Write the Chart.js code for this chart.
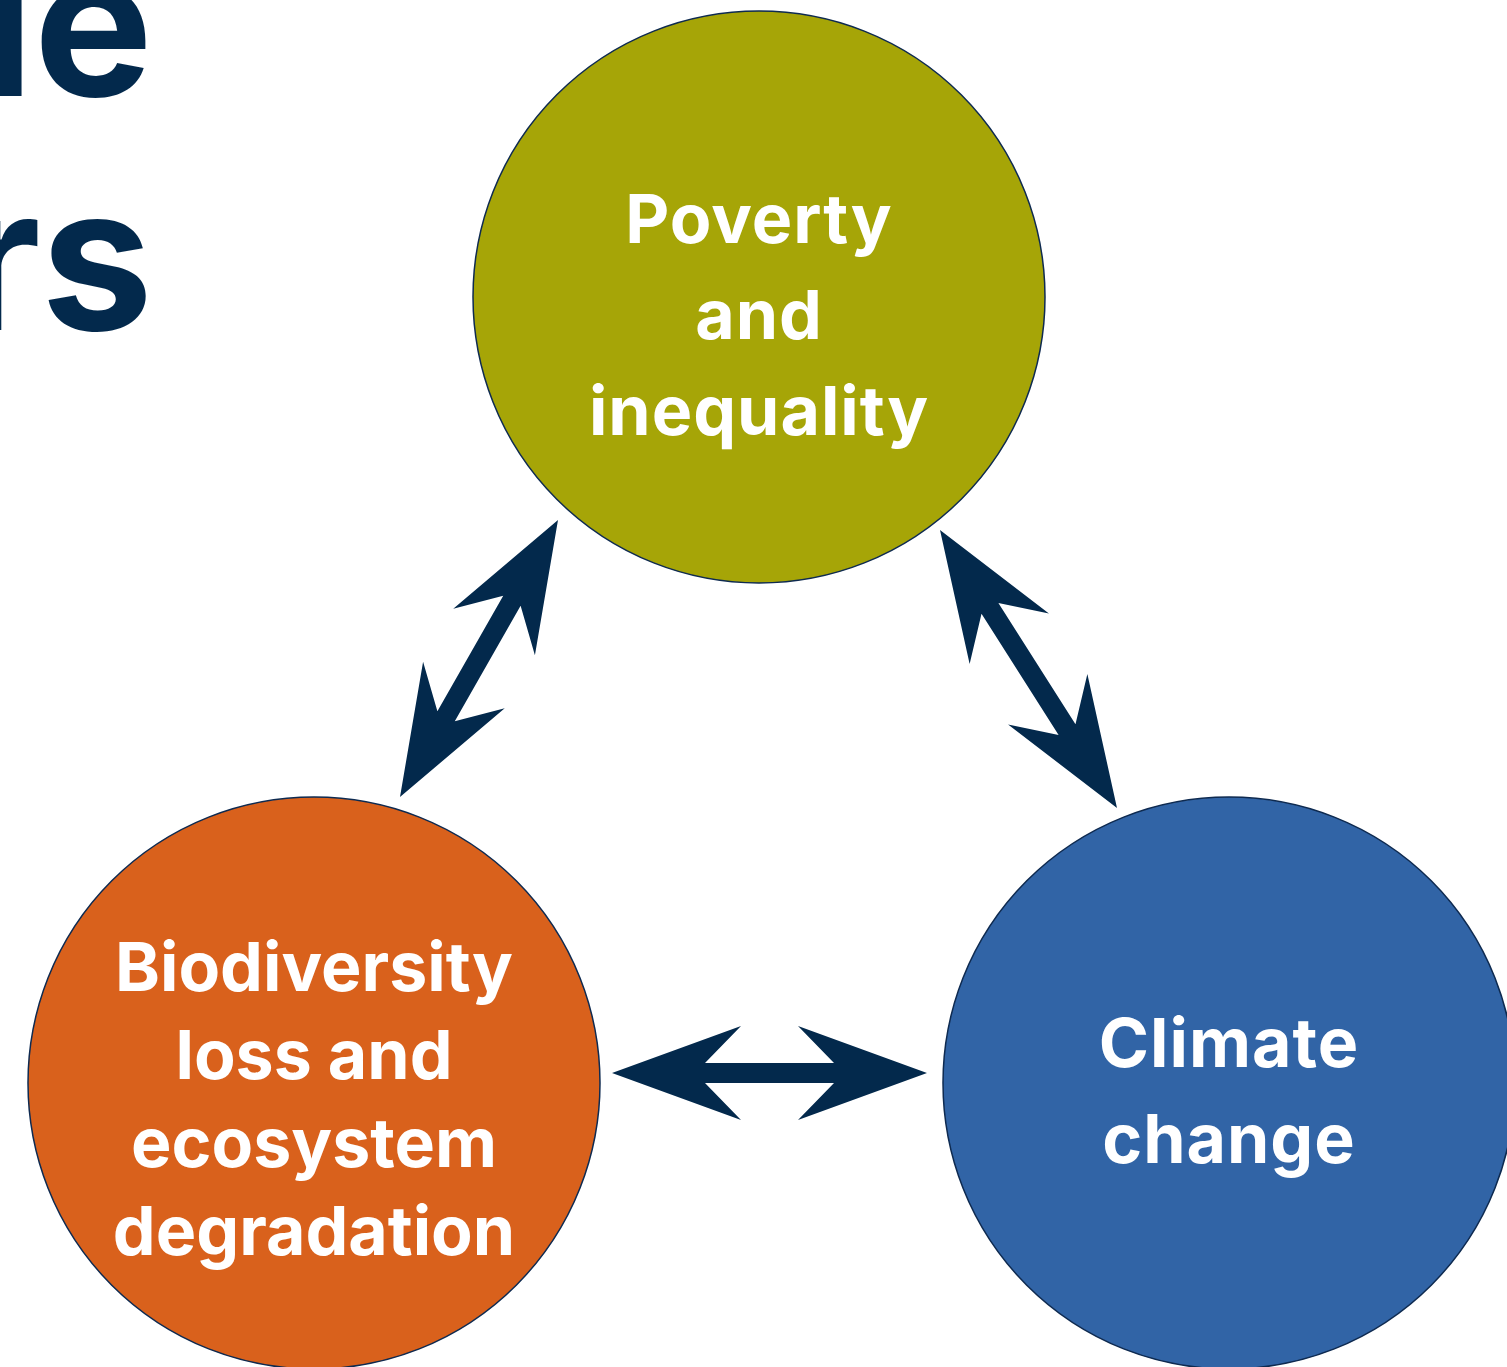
<!DOCTYPE html>
<html>
<head>
<meta charset="utf-8">
<script src="https://cdn.jsdelivr.net/npm/chart.js@4/dist/chart.umd.min.js"></script>
<style>
    html, body { margin: 0; padding: 0; background: #ffffff; overflow: hidden; }
    #wrap { position: relative; width: 1507px; height: 1367px; }
</style>
</head>
<body>
<div id="wrap"><canvas id="chart"></canvas></div>
<script>
// --- data ---------------------------------------------------------------
const nodeNames = ['Poverty and inequality', 'Biodiversity loss and ecosystem degradation', 'Climate change'];
const nodeLines = [
    ['Poverty', 'and', 'inequality'],
    ['Biodiversity', 'loss and', 'ecosystem', 'degradation'],
    ['Climate', 'change']
];
const nodeX = [759, 314, 1229];
const nodeY = [297, 1083, 1083];

// double-headed links between the circles (start / end in the same units)
const arrowStartX = [400, 940, 612];
const arrowStartY = [797, 530, 1073];
const arrowEndX = [558, 1117, 927];
const arrowEndY = [520, 808, 1073];

// cropped heading words at the left edge
const headingWords = ['le', 'rs'];

// --- styles -------------------------------------------------------------
const NAVY = '#03294c';
const nodeColors = ['#a6a507', '#d9611c', '#3164a6'];
const FONT = 'Inter, "Open Sans", sans-serif';

const arrowDatasets = arrowStartX.map((x, i) => ({
    type: 'line',
    label: 'link ' + (i + 1),
    data: [{ x: x, y: arrowStartY[i] }, { x: arrowEndX[i], y: arrowEndY[i] }],
    showLine: false,
    pointRadius: 0,
    isArrow: true
}));

/**
 * Draws one double-headed arrow between two pixel points.
 */
function drawArrow(ctx, p1, p2) {
    const dx = p2.x - p1.x, dy = p2.y - p1.y;
    const len = Math.hypot(dx, dy);
    const ux = dx / len, uy = dy / len;
    const nx = -uy, ny = ux;
    const headLen = 129, headHalf = 47, notch = 93, shaftHalf = 10;
    const pt = (base, along, across) => [base.x + ux * along + nx * across, base.y + uy * along + ny * across];
    const pts = [
        pt(p1, 0, 0),
        pt(p1, headLen, headHalf),
        pt(p1, notch, shaftHalf),
        pt(p2, -notch, shaftHalf),
        pt(p2, -headLen, headHalf),
        pt(p2, 0, 0),
        pt(p2, -headLen, -headHalf),
        pt(p2, -notch, -shaftHalf),
        pt(p1, notch, -shaftHalf),
        pt(p1, headLen, -headHalf)
    ];
    ctx.beginPath();
    pts.forEach((p, i) => i ? ctx.lineTo(p[0], p[1]) : ctx.moveTo(p[0], p[1]));
    ctx.closePath();
    ctx.fillStyle = NAVY;
    ctx.fill();
}

// vertical shift of the text block by number of lines
const blockShift = { 2: 32, 3: 42, 4: 40 };

const diagramPlugin = {
    id: 'diagram',
    afterDatasetsDraw(chart) {
        const ctx = chart.ctx;
        ctx.save();

        // arrows
        chart.data.datasets.forEach((ds, i) => {
            if (!ds.isArrow) return;
            const pts = chart.getDatasetMeta(i).data;
            drawArrow(ctx, pts[0], pts[1]);
        });

        // labels inside the circles
        const nodes = chart.getDatasetMeta(0).data;
        ctx.fillStyle = '#ffffff';
        ctx.textAlign = 'center';
        ctx.textBaseline = 'alphabetic';
        nodes.forEach((el, i) => {
            const lines = nodeLines[i];
            const lh = lines.length > 3 ? 88 : 96;
            const mid = el.y + blockShift[lines.length];
            ctx.font = '700 68px ' + FONT;
            ctx.letterSpacing = lines.length > 3 ? '0px' : '1px';
            lines.forEach((t, j) => {
                ctx.fillText(t, el.x, mid + (j - (lines.length - 1) / 2) * lh);
            });
        });
        ctx.letterSpacing = '0px';

        // heading fragments
        ctx.fillStyle = NAVY;
        ctx.textAlign = 'right';
        ctx.font = '700 200px ' + FONT;
        headingWords.forEach((w, i) => {
            ctx.fillText(w, 153, 96 + i * 234);
        });
        ctx.restore();
    }
};

new Chart(document.getElementById('chart'), {
    type: 'scatter',
    data: {
        datasets: [{
            label: 'drivers',
            data: nodeX.map((x, i) => ({ x: x, y: nodeY[i], name: nodeNames[i] })),
            backgroundColor: nodeColors,
            borderColor: '#0e2a50',
            borderWidth: 1.5,
            pointRadius: 286,
            pointHoverRadius: 286,
            clip: false
        }].concat(arrowDatasets)
    },
    options: {
        responsive: true,
        maintainAspectRatio: false,
        animation: false,
        events: [],
        layout: { padding: 0, autoPadding: false },
        scales: {
            x: { type: 'linear', min: 0, max: 1507, display: false },
            y: { type: 'linear', min: 0, max: 1367, reverse: true, display: false }
        },
        plugins: {
            legend: { display: false },
            tooltip: { enabled: false }
        }
    },
    plugins: [diagramPlugin]
});
</script>
</body>
</html>
